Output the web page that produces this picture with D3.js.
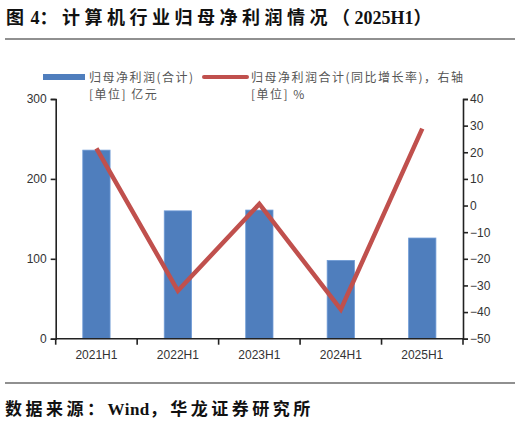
<!DOCTYPE html>
<html lang="zh">
<head>
<meta charset="utf-8">
<title>计算机行业归母净利润情况</title>
<script src="https://d3js.org/d3.v7.min.js"></script>
<style>
body { margin: 0; background: #fff; }
.axis text { font-family: "Liberation Sans", Arial, sans-serif; font-size: 12px; fill: #333; }
.axis path, .axis line { stroke: #222; stroke-width: 1.6px; }
</style>
</head>
<body>
<script>
var categories = ["2021H1", "2022H1", "2023H1", "2024H1", "2025H1"];
var profit = [236, 160, 161, 98, 126];          // 亿元
var growth = [21.5, -32, 0.6, -39, 28.9];       // %
var leftTicks = [0, 100, 200, 300];
var rightTicks = [-50, -40, -30, -20, -10, 0, 10, 20, 30, 40];

var w = 523, h = 424;
var plotL = 55.7, plotR = 463, plotT = 99, plotB = 338.7;

var svg = d3.select("body").append("svg")
  .attr("width", w).attr("height", h);

// title, CJK spaced wider than latin
function spaced(sel, parts) {
  parts.forEach(function(p) {
    sel.append("tspan").style("letter-spacing", p[1] + "px").text(p[0]);
  });
}
var title = svg.append("text")
  .attr("x", 6).attr("y", 24)
  .style("font-family", "'Liberation Serif', 'Noto Sans CJK SC', serif")
  .style("font-weight", "bold")
  .style("font-size", "18px")
  .attr("fill", "#111");
spaced(title, [["图 ", 1], ["4", 0], ["：计算机行业归母净利润情况（", 4.5], ["2025H1", 0], ["）", 0]]);

svg.append("line").attr("x1", 5).attr("x2", 515).attr("y1", 39).attr("y2", 39)
  .attr("stroke", "#222").attr("stroke-width", 1.2);
svg.append("line").attr("x1", 5).attr("x2", 515).attr("y1", 383).attr("y2", 383)
  .attr("stroke", "#222").attr("stroke-width", 1.2);

// footer
var foot = svg.append("text")
  .attr("x", 5).attr("y", 415)
  .style("font-family", "'Liberation Serif', 'Noto Sans CJK SC', serif")
  .style("font-weight", "bold")
  .style("font-size", "17px")
  .attr("fill", "#111");
spaced(foot, [["数据来源：", 3.5], ["Wind", 0.5], ["，华龙证券研究所", 3.5]]);

var x = d3.scaleBand().domain(categories).range([plotL, plotR]).paddingInner(0.665).paddingOuter(0.3325);
var y = d3.scaleLinear().domain([0, 300]).range([plotB, plotT]);
var y2 = d3.scaleLinear().domain([-50, 40]).range([plotB, plotT]);

// bars
svg.selectAll("rect.bar")
  .data(profit)
  .enter()
  .append("rect")
  .attr("class", "bar")
  .attr("x", function(d, i) { return x(categories[i]); })
  .attr("y", function(d) { return y(d); })
  .attr("width", x.bandwidth())
  .attr("height", function(d) { return plotB - y(d); })
  .attr("fill", "#4F7EBD")
  .attr("stroke", "#6F9BD6")
  .attr("stroke-width", 0.8);

// axes
var yAxis = d3.axisLeft(y).tickValues(leftTicks).tickSize(5).tickPadding(4);
svg.append("g").attr("class", "axis")
  .attr("transform", "translate(" + plotL + ",0)")
  .call(yAxis);

var yAxis2 = d3.axisRight(y2).tickValues(rightTicks).tickSize(5).tickPadding(2)
  .tickFormat(function(d) { return d < 0 ? "\u2212" + Math.abs(d) : d; });
svg.append("g").attr("class", "axis")
  .attr("transform", "translate(" + plotR + ",0)")
  .call(yAxis2);

var xAxis = d3.axisBottom(x).tickSize(0).tickPadding(12);
var gx = svg.append("g").attr("class", "axis")
  .attr("transform", "translate(0," + plotB + ")")
  .call(xAxis);
gx.select(".domain").attr("d", "M" + plotL + ",0H" + plotR);

// category boundary ticks
var bounds = d3.range(categories.length + 1).map(function(i) { return plotL + i * x.step(); });
gx.selectAll("line.bound")
  .data(bounds)
  .enter()
  .append("line")
  .attr("class", "bound")
  .attr("x1", function(d) { return d; })
  .attr("x2", function(d) { return d; })
  .attr("y1", 0).attr("y2", 6);

// line
var line = d3.line()
  .x(function(d, i) { return x(categories[i]) + x.bandwidth() / 2; })
  .y(function(d) { return y2(d); });
svg.append("path")
  .datum(growth)
  .attr("d", line)
  .attr("fill", "none")
  .attr("stroke", "#C0504D")
  .attr("stroke-width", 4.5)
  .attr("stroke-linejoin", "miter");

// legend
var lg = svg.append("g")
  .style("font-family", "'Noto Sans CJK SC', sans-serif")
  .style("font-size", "12px")
  .style("letter-spacing", "1.5px")
  .attr("fill", "#555");
lg.append("rect").attr("x", 43).attr("y", 74).attr("width", 42).attr("height", 6).attr("fill", "#4F7EBD");
lg.append("text").attr("x", 89).attr("y", 82).text("归母净利润(合计)");
lg.append("text").attr("x", 89).attr("y", 99).text("[单位] 亿元");
lg.append("line").attr("x1", 204).attr("x2", 247).attr("y1", 77).attr("y2", 77)
  .attr("stroke", "#C0504D").attr("stroke-width", 4).attr("stroke-linecap", "round");
lg.append("text").attr("x", 251).attr("y", 82).text("归母净利润合计(同比增长率)，右轴");
lg.append("text").attr("x", 251).attr("y", 99).text("[单位] %");
</script>
</body>
</html>
